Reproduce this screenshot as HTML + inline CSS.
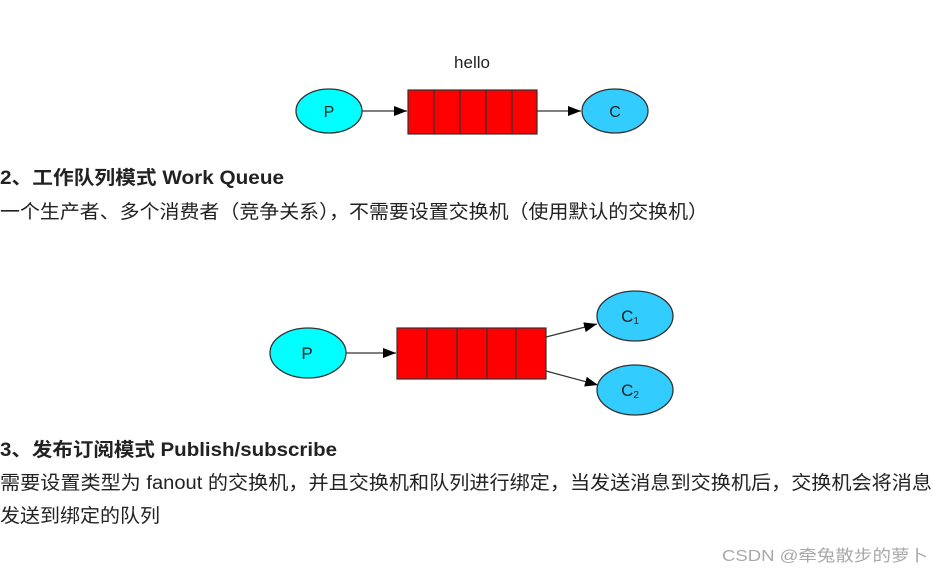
<!DOCTYPE html>
<html><head><meta charset="utf-8"><style>
html,body{margin:0;padding:0;background:#fff;width:945px;height:575px;overflow:hidden}
svg{display:block}
.t{font-family:"Liberation Sans","Noto Sans CJK SC",sans-serif;fill:#222}
</style></head><body>
<svg width="945" height="575" viewBox="0 0 945 575" xmlns="http://www.w3.org/2000/svg">
<defs>
<marker id="a" markerWidth="13" markerHeight="10" refX="13" refY="5" orient="auto" markerUnits="userSpaceOnUse">
<path d="M0,0 L13,5 L0,10 z" fill="#000"/></marker>
</defs>
<text x="472" y="68" text-anchor="middle" class="t" font-size="17" fill="#333">hello</text>
<ellipse cx="329" cy="111" rx="33" ry="22" fill="#00ffff" stroke="#333" stroke-width="1.3"/>
<text x="329" y="117" text-anchor="middle" class="t" font-size="16">P</text>
<line x1="362" y1="111" x2="407" y2="111" stroke="#333" stroke-width="1.2" marker-end="url(#a)"/>
<rect x="408" y="90" width="129" height="44" fill="#ff0000" stroke="#333" stroke-width="1.2"/>
<g stroke="#333" stroke-width="1.2"><line x1="434" y1="90" x2="434" y2="134"/><line x1="460" y1="90" x2="460" y2="134"/><line x1="486" y1="90" x2="486" y2="134"/><line x1="512" y1="90" x2="512" y2="134"/></g>
<line x1="537" y1="111" x2="581" y2="111" stroke="#333" stroke-width="1.2" marker-end="url(#a)"/>
<ellipse cx="615" cy="111" rx="33" ry="22" fill="#33ccff" stroke="#333" stroke-width="1.3"/>
<text x="615" y="117" text-anchor="middle" class="t" font-size="16">C</text>

<text x="0" y="184" class="t" font-size="19" font-weight="bold" textLength="284" lengthAdjust="spacingAndGlyphs">2、工作队列模式 Work Queue</text>
<text x="0" y="218" class="t" font-size="19" textLength="708" lengthAdjust="spacingAndGlyphs">一个生产者、多个消费者（竞争关系），不需要设置交换机（使用默认的交换机）</text>

<ellipse cx="308" cy="353" rx="38" ry="25" fill="#00ffff" stroke="#333" stroke-width="1.3"/>
<text x="307" y="359" text-anchor="middle" class="t" font-size="17">P</text>
<line x1="346" y1="353" x2="396" y2="353" stroke="#333" stroke-width="1.2" marker-end="url(#a)"/>
<rect x="397" y="328" width="149" height="51" fill="#ff0000" stroke="#333" stroke-width="1.2"/>
<g stroke="#333" stroke-width="1.2"><line x1="427" y1="328" x2="427" y2="379"/><line x1="457" y1="328" x2="457" y2="379"/><line x1="487" y1="328" x2="487" y2="379"/><line x1="516" y1="328" x2="516" y2="379"/></g>
<line x1="546" y1="337" x2="597" y2="324" stroke="#333" stroke-width="1.2" marker-end="url(#a)"/>
<line x1="546" y1="371" x2="598" y2="385" stroke="#333" stroke-width="1.2" marker-end="url(#a)"/>
<ellipse cx="635" cy="316" rx="38" ry="25" fill="#33ccff" stroke="#333" stroke-width="1.3"/>
<text x="630" y="322" text-anchor="middle" class="t" font-size="17">C<tspan font-size="10" dy="2">1</tspan></text>
<ellipse cx="635" cy="390" rx="38" ry="25" fill="#33ccff" stroke="#333" stroke-width="1.3"/>
<text x="630" y="396" text-anchor="middle" class="t" font-size="17">C<tspan font-size="10" dy="2">2</tspan></text>

<text x="0" y="456" class="t" font-size="19" font-weight="bold" textLength="337" lengthAdjust="spacingAndGlyphs">3、发布订阅模式 Publish/subscribe</text>
<text x="0" y="489" class="t" font-size="19" textLength="932" lengthAdjust="spacingAndGlyphs">需要设置类型为 fanout 的交换机，并且交换机和队列进行绑定，当发送消息到交换机后，交换机会将消息</text>
<text x="0" y="522" class="t" font-size="19" textLength="160" lengthAdjust="spacingAndGlyphs">发送到绑定的队列</text>

<text x="722" y="561" class="t" font-size="16" style="fill:#a8a8a8" textLength="206" lengthAdjust="spacingAndGlyphs">CSDN @牵兔散步的萝卜</text>
</svg>
</body></html>
